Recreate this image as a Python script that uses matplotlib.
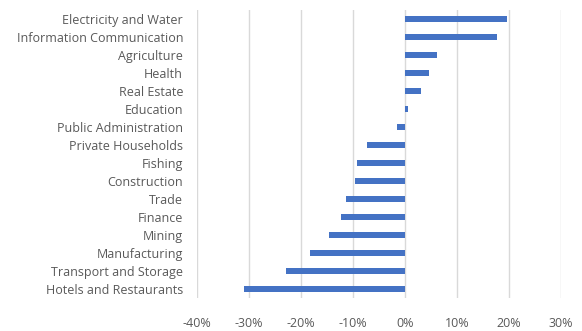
import matplotlib.pyplot as plt
from matplotlib.ticker import PercentFormatter

# sectors from bottom to top
sectors = ["Hotels and Restaurants", "Transport and Storage", "Manufacturing",
           "Mining", "Finance", "Trade", "Construction", "Fishing",
           "Private Households", "Public Administration", "Education",
           "Real Estate", "Health", "Agriculture",
           "Information Communication", "Electricity and Water"]
change = [-30.9, -22.9, -18.2, -14.6, -12.4, -11.4, -9.6, -9.25,
          -7.3, -1.6, 0.5, 3.1, 4.7, 6.2, 17.7, 19.6]
xticks = [-40, -30, -20, -10, 0, 10, 20, 30]

plt.rcParams['font.family'] = ['Open Sans', 'DejaVu Sans']
plt.rcParams['axes.unicode_minus'] = False

fig = plt.figure(figsize=(5.82, 3.31), dpi=100)
ax = fig.add_axes([197/582, 1 - 298/331, (561 - 197)/582, (298 - 10)/331])

ax.barh(range(len(sectors)), change, height=0.33, color='#4472C4', zorder=3)

ax.set_xlim(-40, 30)
ax.set_ylim(-0.5, len(sectors) - 0.5)
ax.set_xticks(xticks)
ax.xaxis.set_major_formatter(PercentFormatter(decimals=0))
ax.set_yticks(range(len(sectors)))
ax.set_yticklabels(sectors)
ax.grid(axis='x', color='#D9D9D9', linewidth=1, zorder=0)
for s in ax.spines.values():
    s.set_visible(False)
ax.tick_params(axis='both', length=0, labelsize=9, colors='#595959')
ax.tick_params(axis='y', pad=10)
ax.tick_params(axis='x', pad=14)

fig.savefig('out.png', dpi=100)
